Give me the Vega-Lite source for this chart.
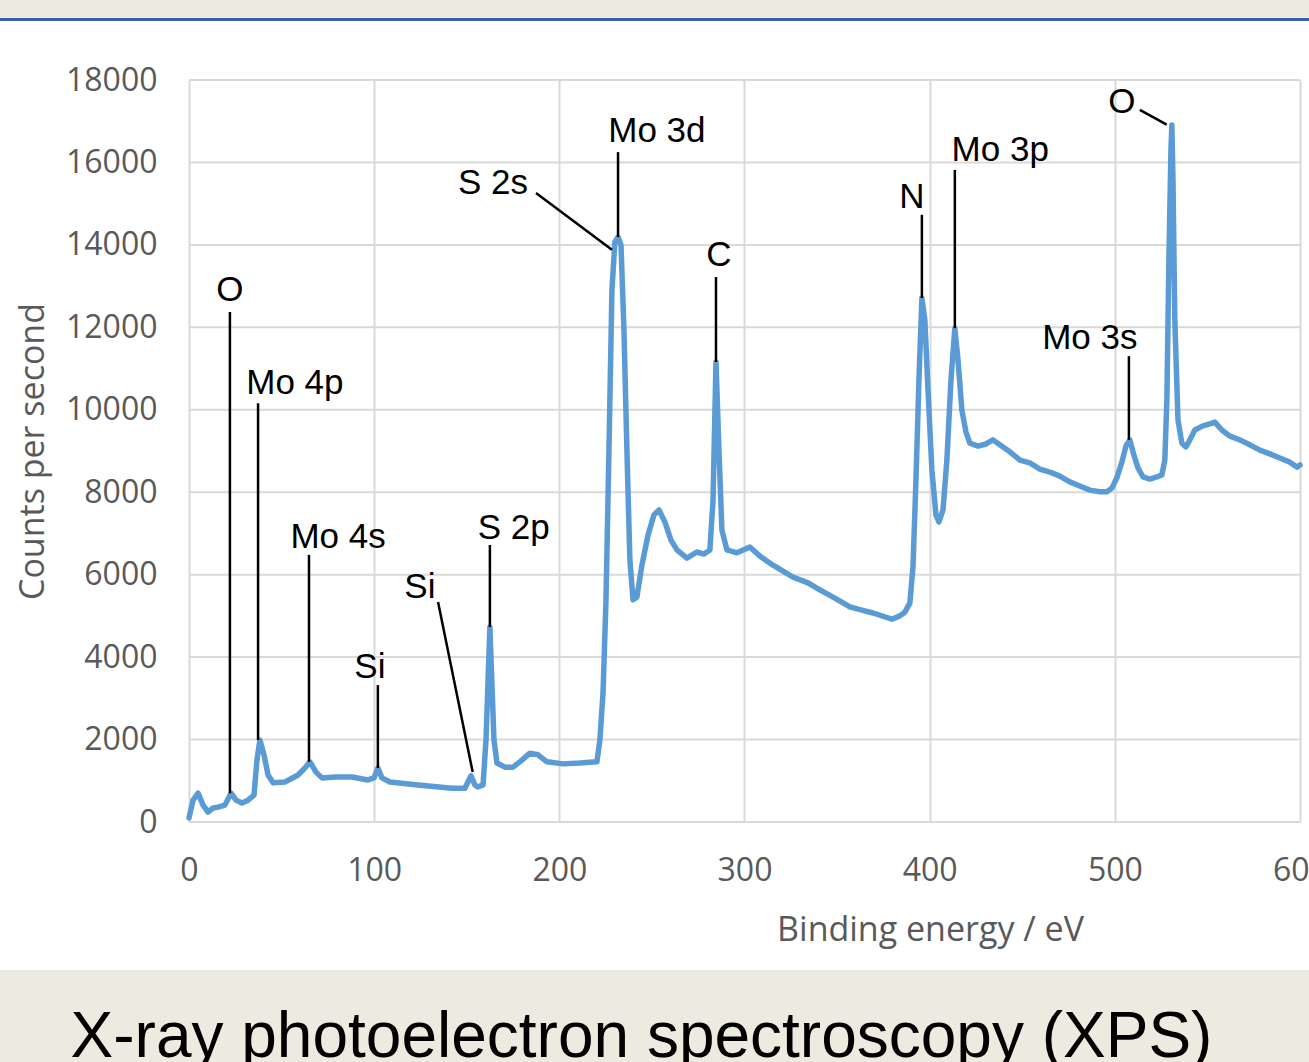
{
  "$schema": "https://vega.github.io/schema/vega-lite/v6.json",
  "background": "white",
  "padding": {"left": 0, "top": 0, "right": -19, "bottom": 0},
  "spacing": 43,
  "columns": 1,
  "concat": [
    {
      "width": 1309,
      "height": 21,
      "view": {"stroke": null, "fill": {"gradient": "linear", "x1": 0, "y1": 0, "x2": 0, "y2": 1, "stops": [{"offset": 0, "color": "#EDEBE0"}, {"offset": 0.86, "color": "#EDEBE0"}, {"offset": 0.86, "color": "#3B5EA6"}, {"offset": 1, "color": "#3B5EA6"}]}},
      "data": {"values": [{"t": ""}]},
      "mark": {"type": "text", "clip": true},
      "encoding": {"text": {"field": "t"}}
    },
    {
      "spacing": 23,
      "columns": 1,
      "concat": [
        {
          "width": 1300,
          "height": 742,
          "view": {"stroke": null},
          "layer": [
            {
              "data": {"values": [{"g":0},{"g":2000},{"g":4000},{"g":6000},{"g":8000},{"g":10000},{"g":12000},{"g":14000},{"g":16000},{"g":18000}]},
              "mark": {"type": "rule", "color": "#d9d9d9", "strokeWidth": 2},
              "encoding": {
                "y": {"field": "g", "type": "quantitative", "title": "Counts per second"},
                "x": {"datum": 0, "type": "quantitative", "title": "Binding energy / eV"},
                "x2": {"datum": 600}
              }
            },
            {
              "data": {"values": [
                {"e":0,"cps":100},{"e":2.2,"cps":530},{"e":4.9,"cps":700},{"e":7.6,"cps":410},{"e":10.3,"cps":240},{"e":13,"cps":340},{"e":15.7,"cps":360},{"e":19.4,"cps":410},{"e":22.7,"cps":700},{"e":25.4,"cps":530},{"e":28.6,"cps":460},{"e":31.9,"cps":530},{"e":35.1,"cps":650},{"e":36.7,"cps":1500},{"e":38.3,"cps":1990},{"e":40.5,"cps":1630},{"e":42.7,"cps":1140},{"e":45.4,"cps":950},{"e":51.8,"cps":970},{"e":58.9,"cps":1140},{"e":62.6,"cps":1310},{"e":65.3,"cps":1460},{"e":68.6,"cps":1210},{"e":71.8,"cps":1070},{"e":78.8,"cps":1090},{"e":88,"cps":1090},{"e":96.7,"cps":1020},{"e":99.9,"cps":1070},{"e":102,"cps":1310},{"e":104.2,"cps":1070},{"e":108.5,"cps":970},{"e":123.7,"cps":900},{"e":142,"cps":820},{"e":149,"cps":820},{"e":152.3,"cps":1120},{"e":154.4,"cps":900},{"e":156,"cps":850},{"e":158.8,"cps":900},{"e":160.4,"cps":1990},{"e":162.5,"cps":4730},{"e":164.7,"cps":1990},{"e":166.3,"cps":1430},{"e":170.6,"cps":1330},{"e":175,"cps":1330},{"e":179.8,"cps":1500},{"e":184.1,"cps":1670},{"e":188.5,"cps":1630},{"e":193.3,"cps":1460},{"e":202,"cps":1410},{"e":211,"cps":1430},{"e":220.3,"cps":1460},{"e":221.9,"cps":1990},{"e":223.6,"cps":3130},{"e":225.2,"cps":5390},{"e":226.8,"cps":9020},{"e":228.4,"cps":12900},{"e":230,"cps":14070},{"e":231.7,"cps":14190},{"e":233.3,"cps":14000},{"e":234.9,"cps":11940},{"e":236.5,"cps":9020},{"e":238.1,"cps":6360},{"e":239.8,"cps":5390},{"e":241.9,"cps":5460},{"e":244.6,"cps":6230},{"e":247.9,"cps":6960},{"e":251.1,"cps":7450},{"e":253.8,"cps":7570},{"e":257,"cps":7280},{"e":260.3,"cps":6840},{"e":263.5,"cps":6600},{"e":268.9,"cps":6400},{"e":274.3,"cps":6550},{"e":278.1,"cps":6500},{"e":281.3,"cps":6600},{"e":283,"cps":7810},{"e":284.6,"cps":11160},{"e":286.2,"cps":9020},{"e":287.8,"cps":7080},{"e":290.5,"cps":6600},{"e":295.9,"cps":6530},{"e":302.9,"cps":6670},{"e":308.3,"cps":6450},{"e":315.4,"cps":6230},{"e":326.2,"cps":5940},{"e":334.3,"cps":5800},{"e":340.7,"cps":5630},{"e":348.8,"cps":5430},{"e":356.9,"cps":5220},{"e":363.4,"cps":5140},{"e":369.4,"cps":5070},{"e":379.6,"cps":4920},{"e":383.9,"cps":5000},{"e":386.6,"cps":5090},{"e":389.3,"cps":5310},{"e":391,"cps":6190},{"e":392.6,"cps":8300},{"e":394.2,"cps":10720},{"e":395.8,"cps":12710},{"e":397.4,"cps":12180},{"e":399.1,"cps":10480},{"e":401.2,"cps":8540},{"e":403.4,"cps":7450},{"e":405,"cps":7280},{"e":407.2,"cps":7570},{"e":409.3,"cps":8780},{"e":411.5,"cps":10720},{"e":413.6,"cps":11980},{"e":415.3,"cps":11210},{"e":417.4,"cps":9990},{"e":419.6,"cps":9460},{"e":421.7,"cps":9190},{"e":426.1,"cps":9120},{"e":430.4,"cps":9170},{"e":434.2,"cps":9270},{"e":437.9,"cps":9150},{"e":443.3,"cps":8980},{"e":448.7,"cps":8780},{"e":454.1,"cps":8710},{"e":459.5,"cps":8560},{"e":464.9,"cps":8490},{"e":470.3,"cps":8390},{"e":475.7,"cps":8250},{"e":481.1,"cps":8150},{"e":486.5,"cps":8050},{"e":491.9,"cps":8010},{"e":495.7,"cps":8010},{"e":498.4,"cps":8100},{"e":501.1,"cps":8350},{"e":503.8,"cps":8730},{"e":506,"cps":9120},{"e":508.1,"cps":9270},{"e":510.3,"cps":8900},{"e":512.5,"cps":8590},{"e":515.2,"cps":8370},{"e":518.9,"cps":8320},{"e":522.7,"cps":8370},{"e":525.4,"cps":8420},{"e":527,"cps":8780},{"e":528.1,"cps":10240},{"e":529.2,"cps":13630},{"e":530.3,"cps":16300},{"e":530.8,"cps":16910},{"e":531.4,"cps":15570},{"e":532.4,"cps":12180},{"e":534.1,"cps":9750},{"e":536.2,"cps":9190},{"e":538.4,"cps":9100},{"e":540.5,"cps":9270},{"e":543.2,"cps":9510},{"e":547.6,"cps":9610},{"e":551.3,"cps":9660},{"e":554,"cps":9700},{"e":557.8,"cps":9510},{"e":562.1,"cps":9360},{"e":567.5,"cps":9270},{"e":572.9,"cps":9150},{"e":578.3,"cps":9020},{"e":583.7,"cps":8930},{"e":589.1,"cps":8830},{"e":594.5,"cps":8730},{"e":598.3,"cps":8610},{"e":600,"cps":8660}
              ]},
              "mark": {"type": "line", "color": "#5B9BD5", "strokeWidth": 5.5, "strokeJoin": "round", "strokeCap": "round"},
              "encoding": {
                "x": {
                  "field": "e", "type": "quantitative", "title": "Binding energy / eV",
                  "scale": {"domain": [-102.07, 600], "nice": false, "zero": false},
                  "axis": {
                    "values": [0, 100, 200, 300, 400, 500, 600],
                    "grid": true, "gridColor": "#d9d9d9", "gridWidth": 2,
                    "domain": false, "ticks": false,
                    "labelFont": "Open Sans", "labelFontSize": 32, "labelColor": "#595959",
                    "labelPadding": 33, "labelFlush": false, "labelOverlap": false,
                    "titleFont": "Open Sans", "titleFontSize": 34, "titleFontWeight": "normal",
                    "titleColor": "#595959", "titleX": 930, "titleY": 108,
                    "titleBaseline": "middle", "titleAlign": "center"
                  }
                },
                "y": {
                  "field": "cps", "type": "quantitative", "title": "Counts per second",
                  "scale": {"domain": [0, 18000], "nice": false},
                  "axis": {
                    "values": [0, 2000, 4000, 6000, 8000, 10000, 12000, 14000, 16000, 18000],
                    "format": "d", "offset": -189,
                    "grid": false, "domain": false, "ticks": false,
                    "labelFont": "Open Sans", "labelFontSize": 32, "labelColor": "#595959",
                    "labelPadding": 32, "labelOverlap": false,
                    "titleFont": "Open Sans", "titleFontSize": 34, "titleFontWeight": "normal",
                    "titleColor": "#595959", "titleX": -156, "titleY": 371,
                    "titleBaseline": "middle", "titleAlign": "center", "titleAngle": -90
                  }
                }
              }
            },
            {
              "data": {"name": "ann", "values": [
                {"label":"O","lx":22.1,"ly":12906,"x1":22.1,"y1":12370,"x2":22.1,"y2":700},
                {"label":"Mo 4p","lx":57.2,"ly":10650,"x1":37.3,"y1":10160,"x2":37.3,"y2":1990},
                {"label":"Mo 4s","lx":80.5,"ly":6914,"x1":64.8,"y1":6480,"x2":64.8,"y2":1460},
                {"label":"Si","lx":97.7,"ly":3760,"x1":102,"y1":3320,"x2":102,"y2":1310},
                {"label":"Si","lx":124.7,"ly":5700,"x1":134.5,"y1":5337,"x2":153.2,"y2":1213},
                {"label":"S 2p","lx":175.4,"ly":7132,"x1":162.5,"y1":6720,"x2":162.5,"y2":4730},
                {"label":"S 2s","lx":164.2,"ly":15502,"x1":187.4,"y1":15260,"x2":228.4,"y2":13880},
                {"label":"Mo 3d","lx":252.7,"ly":16764,"x1":231.7,"y1":16250,"x2":231.7,"y2":14190},
                {"label":"C","lx":286.2,"ly":13755,"x1":284.6,"y1":13220,"x2":284.6,"y2":11160},
                {"label":"N","lx":390.4,"ly":15163,"x1":395.8,"y1":14730,"x2":395.8,"y2":12710},
                {"label":"Mo 3p","lx":438.1,"ly":16303,"x1":413.6,"y1":15820,"x2":413.6,"y2":11980},
                {"label":"Mo 3s","lx":486.5,"ly":11742,"x1":507.6,"y1":11300,"x2":507.6,"y2":9270},
                {"label":"O","lx":503.8,"ly":17467,"x1":513.5,"y1":17273,"x2":528,"y2":16919}
              ]},
              "mark": {"type": "rule", "color": "black", "strokeWidth": 2.5},
              "encoding": {
                "x": {"field": "x1", "type": "quantitative", "title": "Binding energy / eV"},
                "y": {"field": "y1", "type": "quantitative", "title": "Counts per second"},
                "x2": {"field": "x2"},
                "y2": {"field": "y2"}
              }
            },
            {
              "data": {"name": "ann"},
              "mark": {"type": "text", "font": "Liberation Sans", "fontSize": 35, "color": "black", "align": "center", "baseline": "middle"},
              "encoding": {
                "x": {"field": "lx", "type": "quantitative", "title": "Binding energy / eV"},
                "y": {"field": "ly", "type": "quantitative", "title": "Counts per second"},
                "text": {"field": "label"}
              }
            }
          ]
        },
        {
          "width": 1309,
          "height": 92,
          "view": {"fill": "#EDEBE0", "stroke": null},
          "data": {"values": [{"caption": "X-ray photoelectron spectroscopy (XPS)"}]},
          "mark": {"type": "text", "font": "Liberation Sans", "fontSize": 64, "color": "black", "align": "center", "baseline": "alphabetic", "dx": -13, "dy": 41, "clip": true},
          "encoding": {"text": {"field": "caption"}}
        }
      ]
    }
  ]
}
